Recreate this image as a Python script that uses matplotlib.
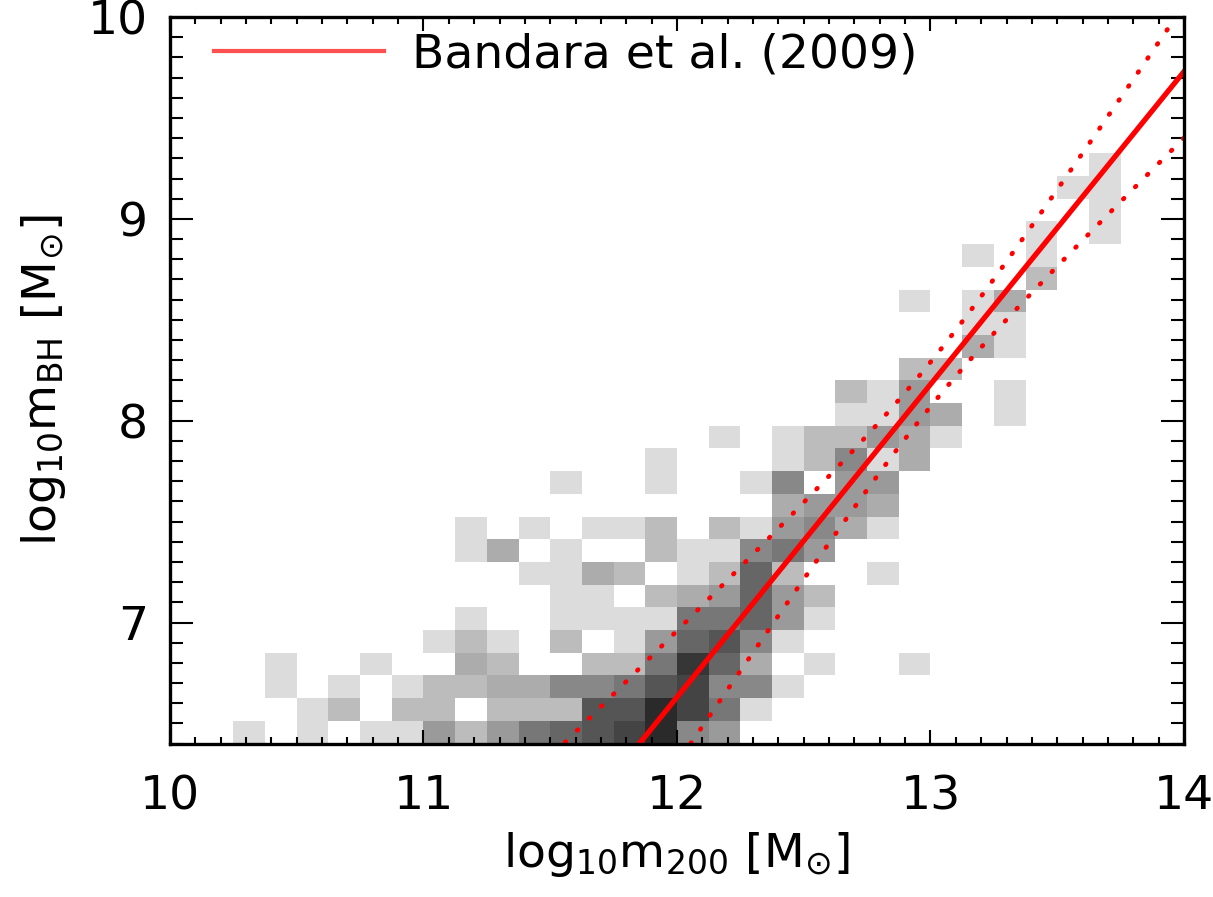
import numpy as np
import matplotlib
matplotlib.use("Agg")
import matplotlib.pyplot as plt
from matplotlib.colors import ListedColormap, BoundaryNorm
from matplotlib.ticker import MultipleLocator

plt.rcParams['font.family'] = ['Liberation Sans Narrow', 'DejaVu Sans']
plt.rcParams['mathtext.fontset'] = 'custom'
plt.rcParams['mathtext.rm'] = 'Liberation Sans Narrow'
plt.rcParams['mathtext.fallback'] = 'stixsans'

# histogram binning (32 x 32 cells)
x_range = (10.0, 14.0)
y_range = (6.4, 10.0)
n_bins = 32

# cell shade levels, one string per row, bottom row first, hex digit per column
hist_rows = [
    "001010114246789b5400000000000000",
    "000012022022288b9610000000000000",
    "00010101223355689551000000000000",
    "0001001003200226a730100100000000",
    "00000000121020147851000000000000",
    "00000000010011116674100000000000",
    "00000000000011023474200000000000",
    "00000000000113201272001000000000",
    "00000000013010021156400000000000",
    "00000000010101120214531000000000",
    "00000000000000000003443000000000",
    "00000000000010010015044000000000",
    "00000000000000010001251300000000",
    "00000000000000000101224310000000",
    "00000000000000000000011430100000",
    "00000000000000000000021400100000",
    "00000000000000000000000220000000",
    "00000000000000000000000003100000",
    "00000000000000000000000001100000",
    "00000000000000000000000101300000",
    "00000000000000000000000000020000",
    "00000000000000000000000001010000",
    "00000000000000000000000000010100",
    "00000000000000000000000000000100",
    "00000000000000000000000000001100",
    "00000000000000000000000000000100",
    "00000000000000000000000000000000",
    "00000000000000000000000000000000",
    "00000000000000000000000000000000",
    "00000000000000000000000000000000",
    "00000000000000000000000000000000",
    "00000000000000000000000000000000",
]
gray_levels = ['#ffffff', '#dcdcdc', '#bcbcbc', '#acacac', '#9a9a9a', '#888888',
               '#777777', '#666666', '#555555', '#444444', '#363636', '#2a2a2a']

# Bandara et al. (2009): log mBH = a + b (log m200 - 13)
fit_a, fit_b = 8.18, 1.55
err_a, err_b = 0.11, 0.31

counts = np.array([[int(c, 16) for c in row] for row in hist_rows])
x_edges = np.linspace(*x_range, n_bins + 1)
y_edges = np.linspace(*y_range, n_bins + 1)

fig = plt.figure(figsize=(12.13, 8.97), dpi=100)
ax = fig.add_axes([0.1401, 0.171, 0.8360, 0.810])

cmap = ListedColormap(gray_levels)
norm = BoundaryNorm(np.arange(-0.5, len(gray_levels)), cmap.N)
ax.pcolormesh(x_edges, y_edges, counts, cmap=cmap, norm=norm, shading='flat')

xx = np.linspace(9.9, 14.1, 400)
yfit = fit_a + fit_b * (xx - 13.0)
band = np.sqrt(err_a ** 2 + (err_b * (xx - 13.0)) ** 2)
ax.plot(xx, yfit, color='#ff0000', lw=3.8, label='Bandara et al. (2009)')
for sgn in (1, -1):
    ax.plot(xx, yfit + sgn * band, color='#ff0000', lw=3.4,
            linestyle=(0, (0.2, 3.4)), dash_capstyle='round')

ax.set_xlim(*x_range)
ax.set_ylim(*y_range)
ax.xaxis.set_major_locator(MultipleLocator(1))
ax.xaxis.set_minor_locator(MultipleLocator(0.1))
ax.yaxis.set_major_locator(MultipleLocator(1))
ax.yaxis.set_minor_locator(MultipleLocator(0.1))

ax.tick_params(axis='both', which='both', direction='in', top=True, right=True,
               width=1.5, labelsize=34)
ax.tick_params(axis='x', which='major', length=10, pad=22)
ax.tick_params(axis='x', which='minor', length=5)
ax.tick_params(axis='y', which='major', length=16.5, pad=16)
ax.tick_params(axis='y', which='minor', length=9.5)
for sp in ax.spines.values():
    sp.set_linewidth(2.4)

ax.set_xlabel(r'$\mathrm{log_{10}m_{200}\ [M_{\odot}]}$', fontsize=34, labelpad=8)
ax.set_ylabel(r'$\mathrm{log_{10}m_{BH}\ [M_{\odot}]}$', fontsize=34, labelpad=14)

leg = ax.legend(loc='upper left', bbox_to_anchor=(0.029, 0.998), frameon=False,
                fontsize=34, handlelength=3.6, handletextpad=0.6,
                borderaxespad=0.0, borderpad=0.3)
for h in leg.get_lines():
    h.set_color('#ff5050')
    h.set_linewidth(3.0)

fig.savefig('out.png', dpi=100)
